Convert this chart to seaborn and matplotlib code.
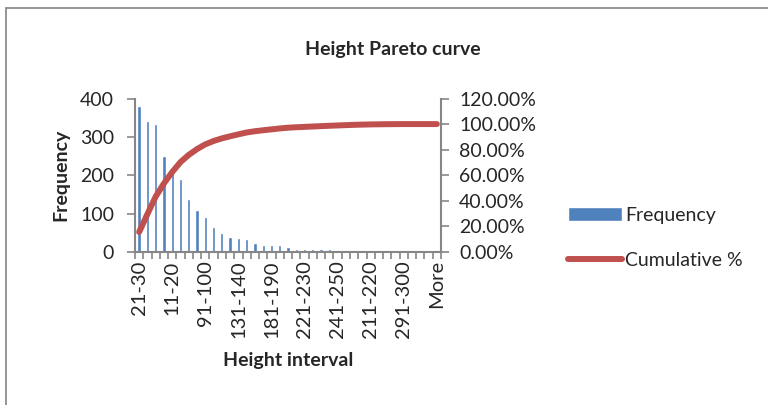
import matplotlib
matplotlib.use("Agg")
import matplotlib.pyplot as plt
from matplotlib.patches import Rectangle
from matplotlib.ticker import FuncFormatter, FixedLocator
import numpy as np
import pandas as pd
import seaborn as sns

# Frequency per height interval, sorted by count (Pareto order)
frequency = [380, 341, 333, 251, 217, 189, 137, 110, 90, 64,
             50, 40, 37, 35, 24, 19, 17, 17, 14, 9,
             7, 7, 7, 7, 6, 6, 6, 4, 4, 2,
             2, 1, 1, 0, 0, 0, 0]
# Interval names shown on the category axis (every fourth bin)
tick_labels = ["21-30", "11-20", "91-100", "131-140", "181-190",
               "221-230", "241-250", "211-220", "291-300", "More"]
tick_step = 4

left_ticks = [0, 100, 200, 300, 400]
right_ticks = [0.0, 0.2, 0.4, 0.6, 0.8, 1.0, 1.2]

bar_color = "#4F81BD"
line_color = "#C0504D"
spine_color = "#868686"

n = len(frequency)
pos = np.arange(n)
freq = np.array(frequency, dtype=float)
df = pd.DataFrame({"pos": pos, "freq": freq,
                   "cum": np.cumsum(freq) / freq.sum()})

sns.set_theme(style="white")
plt.rcParams["font.family"] = ["Lato", "DejaVu Sans"]

W, H = 768, 405
fig = plt.figure(figsize=(W / 100, H / 100), dpi=100)

# outer chart frame
fig.patches.append(Rectangle((6 / W, -0.2), 1.2, (H - 8) / H + 0.2,
                             transform=fig.transFigure, fill=False,
                             edgecolor="#8c8c8c", linewidth=1.3))

x0, x1 = 135, 441
y_top, y_bot = 98.5, 252
ax = fig.add_axes([x0 / W, (H - y_bot) / H, (x1 - x0) / W, (y_bot - y_top) / H])

sns.barplot(data=df, x="pos", y="freq", color=bar_color, width=0.4,
            saturation=1, ax=ax, label="Frequency")
ax.set_xlim(-0.5, n - 0.5)
ax.set_ylim(0, 400)

ax2 = ax.twinx()
sns.lineplot(data=df, x="pos", y="cum", color=line_color, linewidth=4.3,
             ax=ax2, label="Cumulative %", solid_capstyle="round")
ax2.set_ylim(0, 1.2)
ax2.set_xlim(-0.5, n - 0.5)

fs = 14
bfs = 14
# category axis: tick marks at bin boundaries, labels every fourth bin
ax.xaxis.set_major_locator(FixedLocator(np.arange(n + 1) - 0.5))
ax.xaxis.set_major_formatter(FuncFormatter(lambda v, p: ""))
ax.xaxis.set_minor_locator(FixedLocator(pos[::tick_step]))
ax.set_xticklabels(tick_labels, minor=True, rotation=90, fontsize=14.5)
ax.tick_params(axis="x", which="major", direction="out", length=5,
               width=1.2, color=spine_color, bottom=True)
ax.tick_params(axis="x", which="minor", length=0, pad=6, bottom=True)

ax.set_yticks(left_ticks)
ax.set_yticklabels([str(v) for v in left_ticks], fontsize=fs)
ax.tick_params(axis="y", direction="out", length=6, width=1.2,
               color=spine_color, left=True, pad=9)

ax2.set_yticks(right_ticks)
ax2.set_yticklabels([f"{v * 100:.2f}%" for v in right_ticks], fontsize=fs)
ax2.tick_params(axis="y", direction="out", length=6, width=1.2,
                color=spine_color, right=True, pad=7)

for a in (ax, ax2):
    a.spines["top"].set_visible(False)
    for side in ("left", "right", "bottom"):
        a.spines[side].set_color(spine_color)
        a.spines[side].set_linewidth(1.5)
ax.spines["right"].set_visible(False)
ax2.spines["left"].set_visible(False)
ax2.spines["bottom"].set_visible(False)

ax.set_xlabel("Height interval", fontsize=bfs, fontweight="bold", labelpad=10)
ax.set_ylabel("Frequency", fontsize=bfs, fontweight="bold", labelpad=8)
ax2.set_ylabel("")
fig.text(393 / W, (H - 50) / H, "Height Pareto curve", fontsize=bfs,
         fontweight="bold", ha="center", va="center")

h1, l1 = ax.get_legend_handles_labels()
h2, l2 = ax2.get_legend_handles_labels()
for a in (ax, ax2):
    if a.get_legend() is not None:
        a.get_legend().remove()
fig.legend(h1 + h2, l1 + l2, loc="center left",
           bbox_to_anchor=(550 / W, (H - 238) / H), frameon=False,
           fontsize=fs, handlelength=2.8, handletextpad=0.15,
           labelspacing=1.45)

fig.savefig("out.png", dpi=100)
